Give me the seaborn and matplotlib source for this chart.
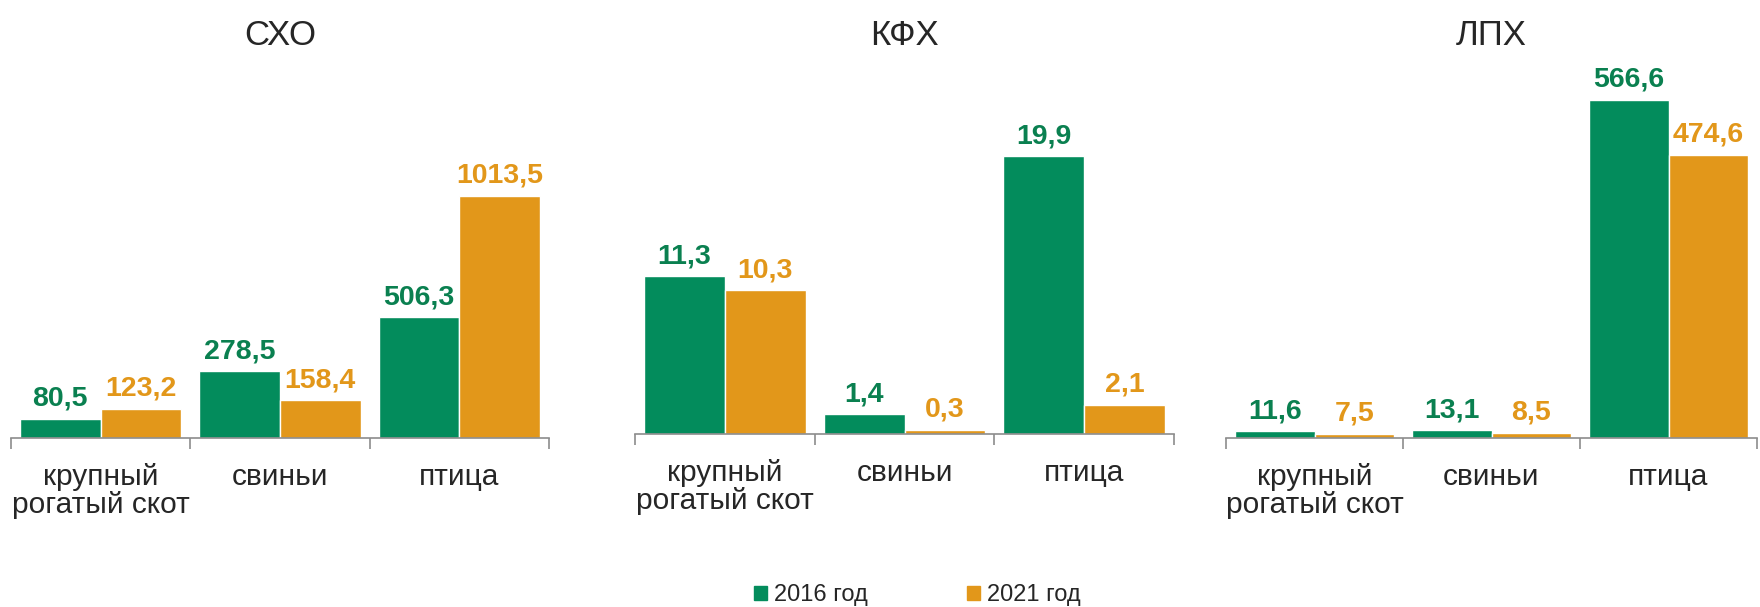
import pandas as pd
import seaborn as sns
import matplotlib.pyplot as plt
from matplotlib.patches import Patch

categories = ["крупный\nрогатый скот", "свиньи", "птица"]
years = ["2016 год", "2021 год"]
groups = ["СХО", "КФХ", "ЛПХ"]

sho_2016 = [80.5, 278.5, 506.3]
sho_2021 = [123.2, 158.4, 1013.5]
kfh_2016 = [11.3, 1.4, 19.9]
kfh_2021 = [10.3, 0.3, 2.1]
lph_2016 = [11.6, 13.1, 566.6]
lph_2021 = [7.5, 8.5, 474.6]

values = {
    "СХО": (sho_2016, sho_2021),
    "КФХ": (kfh_2016, kfh_2021),
    "ЛПХ": (lph_2016, lph_2021),
}

rows = []
for g in groups:
    for year, vals in zip(years, values[g]):
        for cat, v in zip(categories, vals):
            rows.append({"group": g, "year": year, "cat": cat, "value": v})
df = pd.DataFrame(rows)

bar_colors = ["#038C5C", "#E2971A"]
label_colors = ["#0A8050", "#E2971A"]
axis_color = "#8C8C8C"

sns.set_style("white")
plt.rcParams["font.family"] = ["Liberation Sans", "DejaVu Sans"]

W, H = 1760, 607
fig = plt.figure(figsize=(W / 100, H / 100), dpi=100)

# panel rects in pixels: left, right, baseline, ylim max
panels = [
    (11, 549, 438, 1582),
    (635, 1174, 434, 26.8),
    (1226, 1757, 438, 633),
]
top = 60

for g, (x0, x1, base, ymax) in zip(groups, panels):
    ax = fig.add_axes([x0 / W, (H - base) / H, (x1 - x0) / W, (base - top) / H])
    sub = df[df.group == g]
    sns.barplot(data=sub, x="cat", y="value", hue="year", order=categories,
                hue_order=years, palette=bar_colors, width=0.9, gap=0,
                saturation=1, errorbar=None, legend=False, ax=ax)
    for cont, c in zip(ax.containers, label_colors):
        labels = [f"{v:.1f}".replace(".", ",") for v in cont.datavalues]
        ax.bar_label(cont, labels=labels, padding=5, fontsize=20.5,
                     fontweight="bold", color=c)
    ax.set_xlim(-0.5, 2.5)
    ax.set_ylim(0, ymax)
    ax.set_yticks([])
    ax.set_xlabel("")
    ax.set_ylabel("")
    sns.despine(ax=ax, left=True)
    ax.spines["bottom"].set_color(axis_color)
    ax.spines["bottom"].set_linewidth(1.2)
    ax.tick_params(axis="x", which="major", length=0, pad=18, labelsize=21.5)
    ax.set_xticks([-0.5, 0.5, 1.5, 2.5], minor=True)
    ax.tick_params(axis="x", which="minor", bottom=True, length=8, width=1.2,
                   color=axis_color)
    for t in ax.get_xticklabels():
        t.set_linespacing(0.98)
    ax.set_title(g, fontsize=25, pad=11)

handles = [Patch(color=c) for c in bar_colors]
fig.legend(handles, years, loc="center", bbox_to_anchor=(0.521, 1 - 595 / H),
           ncol=2, frameon=False, fontsize=17, handlelength=0.55,
           handleheight=0.55, handletextpad=0.3, columnspacing=4.2)

fig.savefig("out.png", dpi=100)
